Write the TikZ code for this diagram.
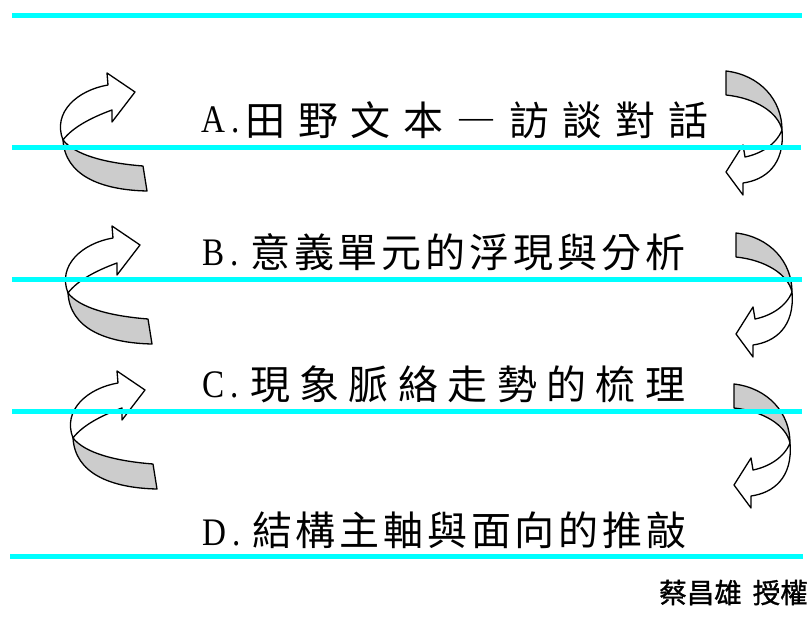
\documentclass[tikz,border=0pt]{standalone}
\usepackage{fontspec}
\setmainfont{Liberation Serif}
\newfontfamily\cjk{Noto Sans CJK TC}
\newfontfamily\cjkcredit[FakeBold=1.2]{Noto Sans CJK TC}
\definecolor{rulecyan}{RGB}{0,255,255}
\definecolor{backgray}{RGB}{204,204,204}
\begin{document}
\begin{tikzpicture}[x=1bp,y=-1bp,
  frontband/.style={draw=black, line width=1.3bp, line join=round, fill=white},
  backband/.style={draw=black, line width=1.3bp, line join=round, fill=backgray},
  rulestyle/.style={draw=rulecyan, line width=5bp},
  latin/.style={inner sep=0pt, anchor=base west, font=\fontsize{39bp}{44bp}\selectfont},
  cjktext/.style={inner sep=0pt, anchor=base west, font=\cjk\fontsize{40bp}{48bp}\selectfont},
  credittext/.style={inner sep=0pt, anchor=base east, font=\cjkcredit\fontsize{27.5bp}{32bp}\selectfont},
  leftarrow/.pic={
    \path[backband] (3,68) .. controls (5,103) and (40,118) .. (87,119) -- (83,94)
       .. controls (45,91) and (15,83) .. (3,68) -- cycle;
    \path[frontband] (3,68) .. controls (-8,40) and (18,18) .. (48,13) -- (47,1) -- (75,20)
       -- (52,50) -- (52,38) .. controls (30,46) and (12,56) .. (3,68) -- cycle;
  },
  rightarrow/.pic={
    \path[backband] (0,0) .. controls (34,4) and (56,29) .. (56,59)
       .. controls (52,41) and (29,27) .. (0,24) -- cycle;
    \path[frontband] (56,59) .. controls (59,94) and (39,109) .. (17,112) -- (17,124)
       -- (0,101) -- (17,74) -- (19,86) .. controls (34,83) and (50,74) .. (56,59) -- cycle;
  }
]
\useasboundingbox (0,0) rectangle (811,617);

% curved arrows
\begin{scope}[shift={(60,72)}] \pic {leftarrow}; \end{scope}
\begin{scope}[shift={(65,225)}, xscale=0.98, yscale=0.95] \pic {leftarrow}; \end{scope}
\begin{scope}[shift={(70,370)}, yscale=0.99] \pic {leftarrow}; \end{scope}
\begin{scope}[shift={(726,71)}] \pic {rightarrow}; \end{scope}
\begin{scope}[shift={(736,233)}, yscale=0.93] \pic {rightarrow}; \end{scope}
\begin{scope}[shift={(734,384)}, yscale=0.99] \pic {rightarrow}; \end{scope}

% cyan rules
\path[rulestyle] (12,15.5) -- (802,15.5);
\path[rulestyle] (12,147.5) -- (801,147.5);
\path[rulestyle] (12,279) -- (802,279);
\path[rulestyle] (12,411.5) -- (802,411.5);
\path[rulestyle] (10,556.5) -- (803,556.5);

% texts
\node[latin] (la) at (201,133) {\scalebox{0.85}[1]{A\hspace{0.2em}.}};
\node[cjktext] (ta) at (245,136) {\makebox[463bp][s]{田\hfill 野\hfill 文\hfill 本\hfill ―\hfill 訪\hfill 談\hfill 對\hfill 話}};
\node[latin] (lb) at (202,265) {\scalebox{0.85}[1]{B\hspace{0.2em}.}};
\node[cjktext] (tb) at (250,267) {\makebox[435bp][s]{意\hfill 義\hfill 單\hfill 元\hfill 的\hfill 浮\hfill 現\hfill 與\hfill 分\hfill 析}};
\node[latin] (lc) at (202,397) {\scalebox{0.85}[1]{C\hspace{0.2em}.}};
\node[cjktext] (tc) at (250,399) {\makebox[435bp][s]{現\hfill 象\hfill 脈\hfill 絡\hfill 走\hfill 勢\hfill 的\hfill 梳\hfill 理}};
\node[latin] (ld) at (202,545) {\scalebox{0.85}[1]{D\hspace{0.2em}.}};
\node[cjktext] (td) at (252,545) {\makebox[434bp][s]{結\hfill 構\hfill 主\hfill 軸\hfill 與\hfill 面\hfill 向\hfill 的\hfill 推\hfill 敲}};

\node[credittext] (credit) at (808,603) {蔡昌雄\hspace{0.4em}授權};
\end{tikzpicture}
\end{document}
